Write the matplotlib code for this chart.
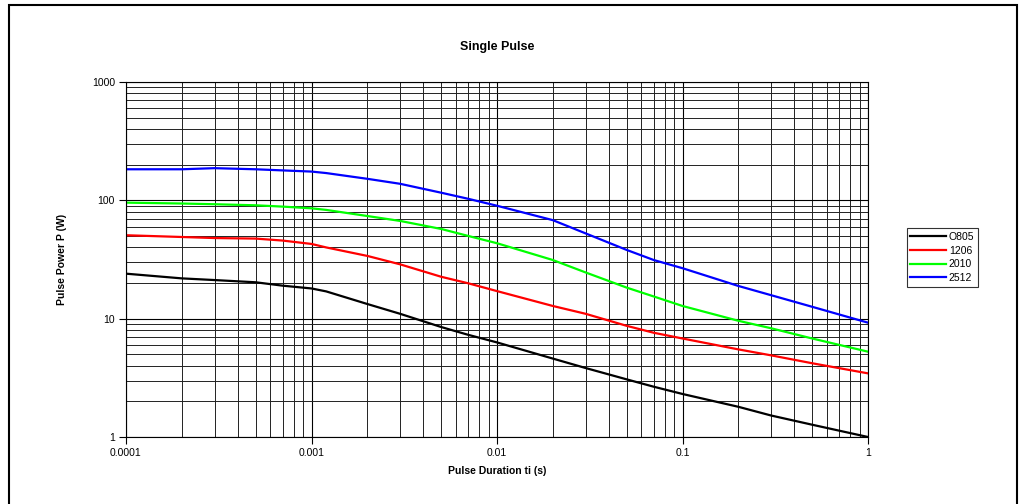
import matplotlib.pyplot as plt
import matplotlib.patches as mpatches
import numpy as np

plt.rcParams['font.family'] = ['Liberation Sans', 'DejaVu Sans']

# pulse duration (s)
t = [0.0001, 0.0002, 0.0003, 0.0005, 0.0007, 0.001, 0.0012, 0.002, 0.003,
     0.005, 0.007, 0.01, 0.02, 0.03, 0.05, 0.07, 0.1, 0.2, 0.3, 0.5, 1.0]

# pulse power (W) per size
p_0805 = [24, 21.9, 21.2, 20.3, 19, 18, 17, 13.3, 11, 8.5, 7.3, 6.3,
          4.6, 3.83, 3.07, 2.66, 2.31, 1.8, 1.52, 1.27, 1.0]
p_1206 = [50.7, 49, 48, 47.5, 45.7, 42.8, 40, 33.9, 28.8, 22.6, 19.9, 17.1,
          12.8, 11, 8.7, 7.6, 6.8, 5.5, 4.9, 4.2, 3.45]
p_2010 = [95.6, 94, 92.7, 90.8, 88.5, 85.6, 83, 73.7, 67, 57.3, 50, 43.4,
          31.3, 24.6, 18.3, 15.4, 12.8, 9.6, 8.3, 6.8, 5.26]
p_2512 = [183, 183, 187, 183, 179, 175, 170, 152, 138, 116, 103, 90,
          68, 52.6, 38.1, 31.3, 26.7, 18.9, 15.8, 12.6, 9.25]

names = ['O805', '1206', '2010', '2512']
colors = ['#000000', '#ff0000', '#00ff00', '#0000ff']

fig = plt.figure(figsize=(10.25, 5.04), dpi=100)
ax = fig.add_axes([126/1025, 1 - 437/504, (868 - 126)/1025, (437 - 82)/504])

for vals, name, c in zip([p_0805, p_1206, p_2010, p_2512], names, colors):
    ax.plot(t, vals, color=c, lw=1.6, label=name)

ax.set_xscale('log')
ax.set_yscale('log')
ax.set_xlim(0.0001, 1)
ax.set_ylim(1, 1000)

ax.grid(True, which='major', color='black', lw=0.8)
ax.grid(True, which='minor', color='#222222', lw=0.7)
ax.set_axisbelow(True)

ax.set_xticks([0.0001, 0.001, 0.01, 0.1, 1])
ax.set_xticklabels(['0.0001', '0.001', '0.01', '0.1', '1'])
ax.set_yticks([1, 10, 100, 1000])
ax.set_yticklabels(['1', '10', '100', '1000'])
ax.tick_params(which='major', direction='out', length=5, width=0.8,
               labelsize=7.5, pad=3)
ax.tick_params(which='minor', length=0)
for s in ax.spines.values():
    s.set_linewidth(0.8)

ax.set_xlabel('Pulse Duration ti (s)', fontsize=7.5, fontweight='bold', labelpad=6)
ax.set_ylabel('Pulse Power P (W)', fontsize=7.5, fontweight='bold', labelpad=18)
ax.set_title('Single Pulse', fontsize=9, fontweight='bold', pad=23)

leg = ax.legend(loc='upper left', bbox_to_anchor=(906.7/1025, 1 - 228.3/504),
                bbox_transform=fig.transFigure, fontsize=7.5, frameon=True,
                fancybox=False, handlelength=3.4, handletextpad=0.3,
                borderpad=0.35, labelspacing=0.35, borderaxespad=0)
leg.get_frame().set_edgecolor('black')
leg.get_frame().set_linewidth(0.8)

# outer chart border
fig.patches.append(mpatches.Rectangle((9/1025, -0.02), (1017 - 9)/1025, 1.02 - 5/504,
                                      transform=fig.transFigure, fill=False,
                                      edgecolor='black', lw=1.5))

fig.savefig('out.png', dpi=100)
